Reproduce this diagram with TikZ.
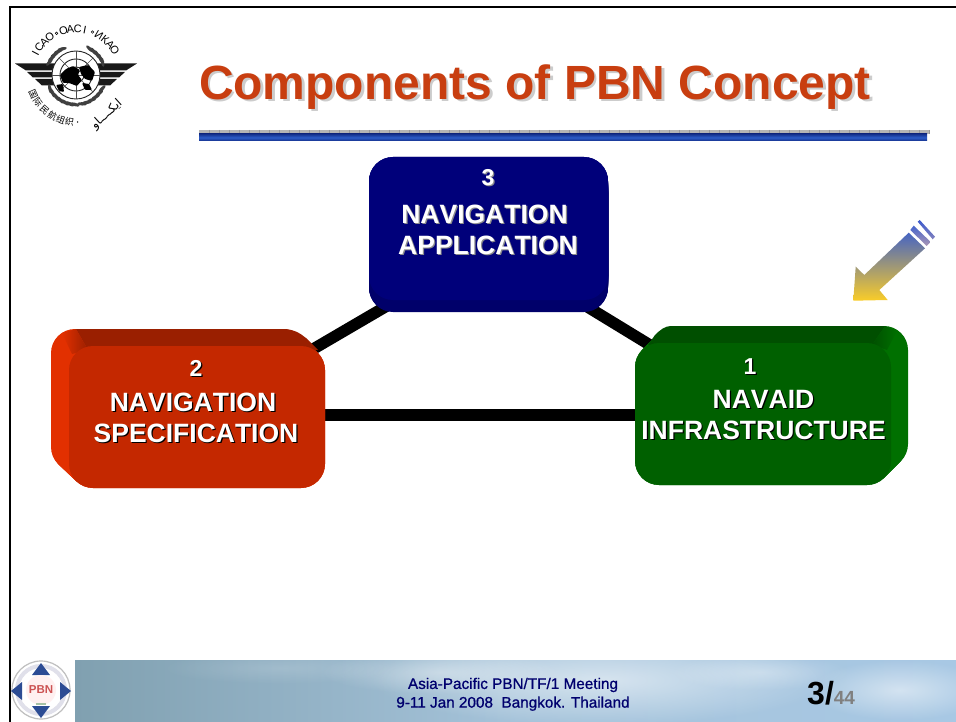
\documentclass[tikz,border=0pt]{standalone}
\usepackage{fontspec}
\setmainfont{Liberation Sans}
\newfontfamily\arabicfont[Script=Arabic]{DejaVu Sans}
\newfontfamily\cjkfont{Noto Sans CJK SC}
\TeXXeTstate=1
\usetikzlibrary{fadings}
\definecolor{titlecol}{HTML}{C83E10}
\definecolor{navyface}{HTML}{00007A}
\definecolor{navyband}{HTML}{00006A}
\definecolor{redface}{HTML}{C42800}
\definecolor{redtop}{HTML}{9A1F00}
\definecolor{redside}{HTML}{E23000}
\definecolor{greenface}{HTML}{006000}
\definecolor{greentop}{HTML}{004F00}
\definecolor{greenside}{HTML}{007000}
\definecolor{footnavy}{HTML}{00006E}
\definecolor{rulegray}{HTML}{B4B4B4}
\definecolor{ruletick}{HTML}{989898}
\definecolor{ruledark}{HTML}{14308C}
\definecolor{rulemid}{HTML}{2C5CC8}
\definecolor{pbnblue}{HTML}{2C4C94}
\pgfdeclarelayer{conn}
\pgfdeclarelayer{back}
\pgfsetlayers{conn,back,main}
\newcommand\shtxt[2][black]{\leavevmode\rlap{\raisebox{-1.2pt}{\hspace{1.2pt}\textcolor{#1}{#2}}}#2}
\newcommand\numtxt[2][black]{{\fontsize{23}{31}\selectfont\shtxt[#1]{#2}}}
\newcommand\titletxt[1]{\leavevmode\rlap{\raisebox{-2.5pt}{\hspace{2.5pt}\textcolor{black!20}{#1}}}#1}
% hull of an extruded rounded box: x1 y1 x2 y2 dx dy colour
\newcommand\boxhull[7]{\foreach \k in {0,1,...,18}{%
  \fill[#7,rounded corners=24pt]
   ({#1+#5*\k/18},{#2+#6*\k/18}) rectangle ({#3+#5*\k/18},{#4+#6*\k/18});}}
\tikzset{
  face/.style={rounded corners=24pt,inner sep=0pt,minimum width=#1,anchor=center},
  boxlabel/.style={text=white,font={\bfseries\addfontfeature{Kerning=Off}\fontsize{26.5}{31}\selectfont},align=center,anchor=north,inner sep=0pt},
  link/.style={line width=11.5pt,black},
  wing/.style={fill=black!90},
  leaf/.style={fill=black!75},
  cloud/.style={fill=white,path fading=fuzzyblob},
}
\tikzfading[name=fuzzyblob,inner color=transparent!0,outer color=transparent!100]
\begin{document}
\begin{tikzpicture}[x=1pt,y=-1pt]
\useasboundingbox (0,0) rectangle (956,722);
\begin{pgfonlayer}{conn}
\fill[white] (0,0) rectangle (956,722);
\end{pgfonlayer}

% frame
\draw[line width=2pt,black] (9.5,722) -- (9.5,7) -- (956,7);

% ICAO logo
\begin{scope}[shift={(76pt,-75pt)},y=1pt]
  % wings
  \foreach \s in {1,-1}{
    \fill[wing] ({\s*-61},11.5) -- ({\s*-20},11.5) -- ({\s*-23},4.5) -- ({\s*-50},4.5) -- cycle;
    \fill[wing] ({\s*-49},3) -- ({\s*-24},3) -- ({\s*-24},-2.5) -- ({\s*-43},-2.5) -- cycle;
    \fill[wing] ({\s*-41},-4) -- ({\s*-23},-4) -- ({\s*-21},-10.5) -- ({\s*-34},-10.5) -- cycle;
  }
  % wreath
  \foreach \a in {118,127,136,145,154,208,218,228,238,248,258,268,282,292,302,312,322,332,26,35,44,53,62}{
    \fill[leaf,shift={(\a:29.5)},rotate=\a+75] (0,0) ellipse (4.8 and 1.7);
  }
  % globe
  \fill[white] (0,0) circle (24);
  \foreach \r in {8,16,24}{\draw[black!85,line width=.9pt] (0,0) circle (\r);}
  \foreach \a in {0,45,...,315}{\draw[black!70,line width=.6pt] (0,0) -- (\a:24);}
  % continents
  \fill[black,rounded corners=1pt] (-16,0) -- (-10,6) -- (-3,9) -- (4,5) -- (2,0) -- (6,-5) -- (1,-11) -- (-7,-8) -- (-13,-8) -- cycle;
  \fill[black,rounded corners=1pt] (3,8) -- (12,10) -- (19,3) -- (16,-6) -- (9,-4) -- (5,1) -- cycle;
  \fill[black,rounded corners=1pt] (6,-8) -- (13,-9) -- (16,-15) -- (9,-15) -- cycle;
  \fill[black,rounded corners=1pt] (-20,-10) -- (-13,-9) -- (-12,-17) -- (-17,-16) -- cycle;
  % lettering on the upper arc
  \foreach \c/\a in {I/152,C/143,A/134,O/125,O/106,A/97,C/88,I/79,И/60,К/51,А/42,О/33}{
    \node[name=lg\a,font=\fontsize{11}{11}\selectfont,inner sep=0pt,rotate=\a-90] at (\a:46) {\c};
  }
  \foreach \a in {115,69}{\draw[black,line width=.5pt] (\a:46) circle (1.3);}
  % lettering on the lower arc
  \foreach \c/\a in {国/204,际/216,民/228,航/240,组/251,织/262}{
    \node[name=cn\a,font=\cjkfont\fontsize{9}{9}\selectfont,inner sep=0pt,rotate=\a-270] at (\a:47) {\c};
  }
  \fill[black] (272:47) circle (.8);
  \node[name=arb,font=\arabicfont\fontsize{12}{12}\selectfont,inner sep=0pt,rotate=42] at (-52:50) {\beginR ايكــــاو\endR};
\end{scope}

% title
\node[name=titleText,inner sep=0pt,font=\bfseries\fontsize{48}{48}\selectfont,text=titlecol] at (535,88) {\titletxt{Components of PBN Concept}};

% title rule
\fill[rulegray] (199,130) rectangle (929,134);
\foreach \x in {209,219,...,929}{\draw[ruletick,line width=.6pt] (\x,130) -- (\x,134);}
\shade[top color=ruledark,bottom color=ruledark,middle color=rulemid] (199,134) rectangle (927,141);

% arrow
\shade[top color={rgb,255:red,70;green,100;blue,195},middle color={rgb,255:red,170;green,150;blue,165},bottom color={rgb,255:red,250;green,205;blue,40}]
  (853.3,300.7) -- (855.7,266.7) -- (864.3,275) -- (908.7,232.7) -- (925,248.3) -- (879.3,290) -- (887.7,300) -- cycle;
\shade[top color={rgb,255:red,70;green,100;blue,205},bottom color={rgb,255:red,170;green,150;blue,180}]
  (910.3,230) -- (913.7,225.7) -- (930.7,242) -- (926.7,246) -- cycle;
\shade[top color={rgb,255:red,60;green,90;blue,205},bottom color={rgb,255:red,130;green,130;blue,190}]
  (917.7,221.7) -- (919.7,220) -- (935,236.7) -- (932.7,239.3) -- cycle;

% box faces
\node[face=239pt,fill=navyface,minimum height=143pt,name=appBox] at (488.5,228.5) {};
\node[face=256pt,fill=redface,minimum height=142pt,name=specBox] at (197,417) {};
\node[face=256pt,fill=greenface,minimum height=142pt,name=infraBox] at (763,414) {};

% box sides
\begin{pgfonlayer}{back}
\boxhull{369}{157}{608}{300}{0}{12}{navyband}
\boxhull{69}{346}{325}{488}{-18}{-17}{redside}
\fill[redtop] (76,329) -- (283,329) .. controls (293,329) and (300,333) .. (306,338) -- (318,350) -- (88,350) -- cycle;
\shade[left color=redside,right color=redtop] (62,333) -- (76,329) -- (88,350) -- (72,354) -- cycle;
\boxhull{635}{343}{891}{485}{17}{-17}{greenside}
\fill[greentop] (671,326) -- (885,326) -- (872,345) -- (648,345) -- (655,335) .. controls (660,330) and (665,326) .. (671,326) -- cycle;
\shade[left color=greentop,right color=greenside] (885,326) -- (897,331) -- (887,350) -- (872,345) -- cycle;
\end{pgfonlayer}

% connectors
\begin{pgfonlayer}{conn}
\draw[link] ([yshift=-18pt]appBox.center) -- (specBox.center);
\draw[link] ([yshift=-18pt]appBox.center) -- (infraBox.center);
\draw[link] ([yshift=2pt]specBox.east) -- ([yshift=-1pt]infraBox.west);
\end{pgfonlayer}

% box labels
\node[boxlabel,name=appText] at (488,169) {\numtxt[black!45]{3}\\[7pt]\shtxt[black!45]{NAVIGATION}\rule{7pt}{0pt}\\\shtxt[black!45]{APPLICATION}};
\node[boxlabel,name=specText] at (196,360) {\numtxt{2}\\[4pt]\shtxt{NAVIGATION}\rule{6pt}{0pt}\\\shtxt{SPECIFICATION}};
\node[boxlabel,name=infraText] at (763.5,358) {\numtxt{1}\rule{27pt}{0pt}\\[3pt]\shtxt{NAVAID}\\\shtxt{INFRASTRUCTURE}};

% footer sky
\begin{scope}
  \clip (75,660) rectangle (956,722);
  \shade[left color={rgb,255:red,128;green,160;blue,176},right color={rgb,255:red,168;green,200;blue,228},middle color={rgb,255:red,165;green,195;blue,218}] (75,660) rectangle (956,722);
  \fill[cloud,fill opacity=.55] (600,680) ellipse (230 and 45);
  \fill[cloud,fill opacity=.35] (440,672) ellipse (120 and 22);
  \fill[cloud,fill opacity=.5] (900,690) ellipse (90 and 30);
  \fill[cloud,fill opacity=.15] (280,668) ellipse (120 and 16);
  \fill[cloud,fill opacity=.3] (760,672) ellipse (90 and 18);
\end{scope}

% PBN logo
\fill[white] (11,660) rectangle (75,722);
\begin{scope}
  \clip (11,660) rectangle (75,722);
  \draw[black!25,line width=1.2pt] (41,690) circle (29);
  \draw[blue!30!black!12,line width=4pt] (41,690) circle (24);
  \fill[pbnblue] (41,663) -- (32,675) -- (50,675) -- cycle;
  \fill[pbnblue] (41,718) -- (32,706) -- (50,706) -- cycle;
  \fill[pbnblue] (11,691) -- (22,682) -- (22,700) -- cycle;
  \fill[pbnblue] (71,691) -- (60,682) -- (60,700) -- cycle;
  \fill[red!6] (41,690) circle (15);
  \node[name=pbnText,inner sep=0pt,font=\bfseries\fontsize{11.5}{12}\selectfont,text=red!60!white!80!black] at (41,690) {PBN};
  \fill[green!30!black!35] (36,703) rectangle (46,705);
\end{scope}

% footer text
\node[name=meeting,inner sep=0pt,anchor=south,align=center,text=footnavy,font={\addfontfeature{FakeBold=0.8}\fontsize{15.3}{18.7}\selectfont}] at (513,711)
  {Asia-Pacific PBN/TF/1 Meeting\\9-11 Jan 2008\ \ Bangkok. Thailand};
\node[name=pageNo,inner sep=0pt,anchor=base west] at (807,704) {\bfseries\fontsize{32}{32}\selectfont 3/\textcolor{black!50}{\fontsize{19}{19}\selectfont 44}};
\end{tikzpicture}
\end{document}
